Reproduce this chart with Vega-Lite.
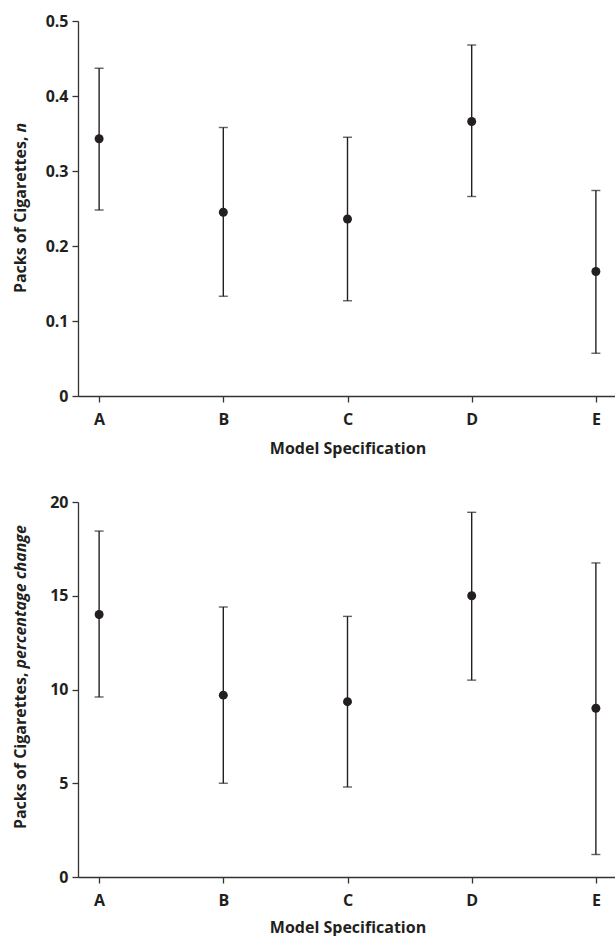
{
  "$schema": "https://vega.github.io/schema/vega-lite/v6.json",
  "padding": {"left": 11, "top": 13, "right": 0, "bottom": 1},
  "background": "white",
  "config": {
    "view": {"stroke": null},
    "font": "Open Sans",
    "axis": {
      "grid": false,
      "domainColor": "#333333",
      "tickColor": "#333333",
      "domainWidth": 1.3,
      "tickWidth": 1.3,
      "tickSize": 6,
      "labelColor": "#231f20",
      "titleColor": "#231f20",
      "labelFont": "Open Sans",
      "titleFont": "Open Sans",
      "labelFontWeight": "bold",
      "titleFontWeight": "bold",
      "labelFontSize": 16,
      "titleFontSize": 16
    }
  },
  "datasets": {
    "packs": [
      {"spec": "A", "est": 0.343, "lo": 0.248, "hi": 0.437},
      {"spec": "B", "est": 0.245, "lo": 0.133, "hi": 0.358},
      {"spec": "C", "est": 0.236, "lo": 0.127, "hi": 0.345},
      {"spec": "D", "est": 0.366, "lo": 0.266, "hi": 0.468},
      {"spec": "E", "est": 0.166, "lo": 0.057, "hi": 0.274}
    ],
    "pct": [
      {"spec": "A", "est": 14.0, "lo": 9.6, "hi": 18.45},
      {"spec": "B", "est": 9.7, "lo": 5.0, "hi": 14.4},
      {"spec": "C", "est": 9.35, "lo": 4.8, "hi": 13.9},
      {"spec": "D", "est": 15.0, "lo": 10.5, "hi": 19.45},
      {"spec": "E", "est": 9.0, "lo": 1.2, "hi": 16.75}
    ]
  },
  "spacing": 38,
  "vconcat": [
    {
      "width": 539,
      "height": 375,
      "data": {"name": "packs"},
      "resolve": {"axis": {"y": "independent"}},
      "encoding": {
        "x": {
          "field": "spec", "type": "ordinal",
          "scale": {"type": "point", "padding": 0.17},
          "axis": {"labelAngle": 0, "labelPadding": 9, "titlePadding": 13, "title": "Model Specification"}
        }
      },
      "layer": [
        {
          "mark": {"type": "rule", "color": "#231f20", "strokeWidth": 1.4},
          "encoding": {
            "y": {
              "field": "lo", "type": "quantitative",
              "scale": {"domain": [0, 0.5], "nice": false, "zero": true},
              "axis": {
                "orient": "left",
                "values": [0, 0.1, 0.2, 0.3, 0.4, 0.5],
                "format": "~g",
                "labelPadding": 4,
                "title": "Packs of Cigarettes,",
                "titleAngle": -90,
                "titleAlign": "right",
                "titleBaseline": "alphabetic",
                "titleX": -53,
                "titleY": 115
              }
            },
            "y2": {"field": "hi"}
          }
        },
        {
          "mark": {"type": "tick", "color": "#231f20", "size": 9, "thickness": 1.4},
          "encoding": {"y": {"field": "lo", "type": "quantitative", "axis": null}}
        },
        {
          "mark": {"type": "tick", "color": "#231f20", "size": 9, "thickness": 1.4},
          "encoding": {"y": {"field": "hi", "type": "quantitative", "axis": null}}
        },
        {
          "mark": {"type": "point", "filled": true, "shape": "circle", "size": 80, "color": "#231f20", "opacity": 1},
          "encoding": {
            "y": {
              "field": "est", "type": "quantitative",
              "axis": {
                "orient": "left",
                "labels": false, "ticks": false, "domain": false,
                "title": "n",
                "titleFontStyle": "italic",
                "titleAngle": -90,
                "titleAlign": "left",
                "titleBaseline": "alphabetic",
                "titleX": -53,
                "titleY": 111
              }
            }
          }
        }
      ]
    },
    {
      "width": 539,
      "height": 375,
      "data": {"name": "pct"},
      "resolve": {"axis": {"y": "independent"}},
      "encoding": {
        "x": {
          "field": "spec", "type": "ordinal",
          "scale": {"type": "point", "padding": 0.17},
          "axis": {"labelAngle": 0, "labelPadding": 9, "titlePadding": 11, "title": "Model Specification"}
        }
      },
      "layer": [
        {
          "mark": {"type": "rule", "color": "#231f20", "strokeWidth": 1.4},
          "encoding": {
            "y": {
              "field": "lo", "type": "quantitative",
              "scale": {"domain": [0, 20], "nice": false, "zero": true},
              "axis": {
                "orient": "left",
                "values": [0, 5, 10, 15, 20],
                "format": "~g",
                "labelPadding": 4,
                "title": "Packs of Cigarettes,",
                "titleAngle": -90,
                "titleAlign": "right",
                "titleBaseline": "alphabetic",
                "titleX": -53,
                "titleY": 170
              }
            },
            "y2": {"field": "hi"}
          }
        },
        {
          "mark": {"type": "tick", "color": "#231f20", "size": 9, "thickness": 1.4},
          "encoding": {"y": {"field": "lo", "type": "quantitative", "axis": null}}
        },
        {
          "mark": {"type": "tick", "color": "#231f20", "size": 9, "thickness": 1.4},
          "encoding": {"y": {"field": "hi", "type": "quantitative", "axis": null}}
        },
        {
          "mark": {"type": "point", "filled": true, "shape": "circle", "size": 80, "color": "#231f20", "opacity": 1},
          "encoding": {
            "y": {
              "field": "est", "type": "quantitative",
              "axis": {
                "orient": "left",
                "labels": false, "ticks": false, "domain": false,
                "title": "percentage change",
                "titleFontStyle": "italic",
                "titleAngle": -90,
                "titleAlign": "left",
                "titleBaseline": "alphabetic",
                "titleX": -53,
                "titleY": 166
              }
            }
          }
        }
      ]
    }
  ]
}
